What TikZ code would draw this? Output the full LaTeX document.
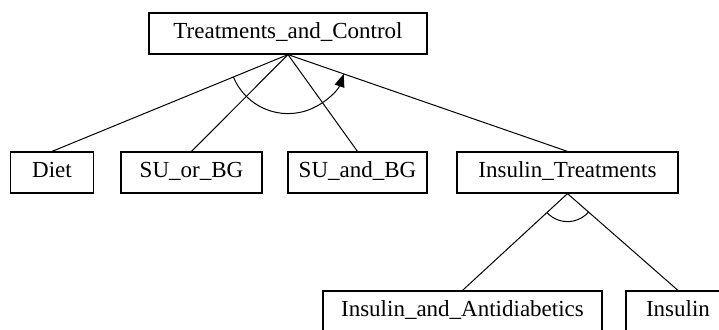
\documentclass[tikz,border=0pt]{standalone}
\usepackage{fontspec}
\setmainfont{Liberation Serif}
\usetikzlibrary{calc,arrows.meta}

\tikzset{
  tnode/.style={draw, line width=0.6pt, minimum height=20.5pt, inner xsep=4pt,
    text height=0.7em, text depth=0.22em,
    font=\fontsize{11.5}{13}\selectfont},
  tedge/.style={line width=0.5pt},
  tarc/.style={line width=0.5pt}
}

\begin{document}
\begin{tikzpicture}[x=0.5pt, y=0.5pt]
  \useasboundingbox (0,0) rectangle (719,329);
  \clip (0,0) rectangle (719,329);

  % Root
  \node[tnode, minimum width=139pt] (top) at (288, 295.5) {Treatments\_and\_Control};

  % Second level
  \node[tnode, minimum width=41.5pt]  (diet)  at (52, 156.5)    {Diet};
  \node[tnode, minimum width=70.5pt]  (suor)  at (191.5, 156.5) {SU\_or\_BG};
  \node[tnode, minimum width=69.5pt]  (suand) at (357.5, 156.5) {SU\_and\_BG};
  \node[tnode, minimum width=110.5pt] (instr) at (567.5, 156.5) {Insulin\_Treatments};

  % Third level (cut at the lower and right edges)
  \node[tnode, minimum width=139.5pt] (insant) at (462.5, 17.5) {Insulin\_and\_Antidiabetics};
  \node[tnode, minimum width=52pt]    (ins)    at (678, 17.5)   {Insulin};

  % Connections
  \draw[tedge] (top.south) -- (diet.north);
  \draw[tedge] (top.south) -- (suor.north);
  \draw[tedge] (top.south) -- (suand.north);
  \draw[tedge] (top.south) -- (instr.north);
  \draw[tedge] (instr.south) -- (insant.north);
  \draw[tedge] (instr.south) -- (ins.north);

  % Arcs over the branches
  \draw[tarc, -{Triangle[length=6.5pt, width=5pt]}]
    let \p1=($(diet.north)-(top.south)$), \p2=($(instr.north)-(top.south)$),
        \n1={atan2(\y1,\x1)}, \n2={atan2(\y2,\x2)} in
    ($(top.south)+(\n1:29.5pt)$) arc[start angle=\n1, end angle=\n2, radius=29.5pt];
  \draw[tarc]
    let \p1=($(insant.north)-(instr.south)$), \p2=($(ins.north)-(instr.south)$),
        \n1={atan2(\y1,\x1)}, \n2={atan2(\y2,\x2)} in
    ($(instr.south)+(\n1:14pt)$) arc[start angle=\n1, end angle=\n2, radius=14pt];
\end{tikzpicture}
\end{document}
